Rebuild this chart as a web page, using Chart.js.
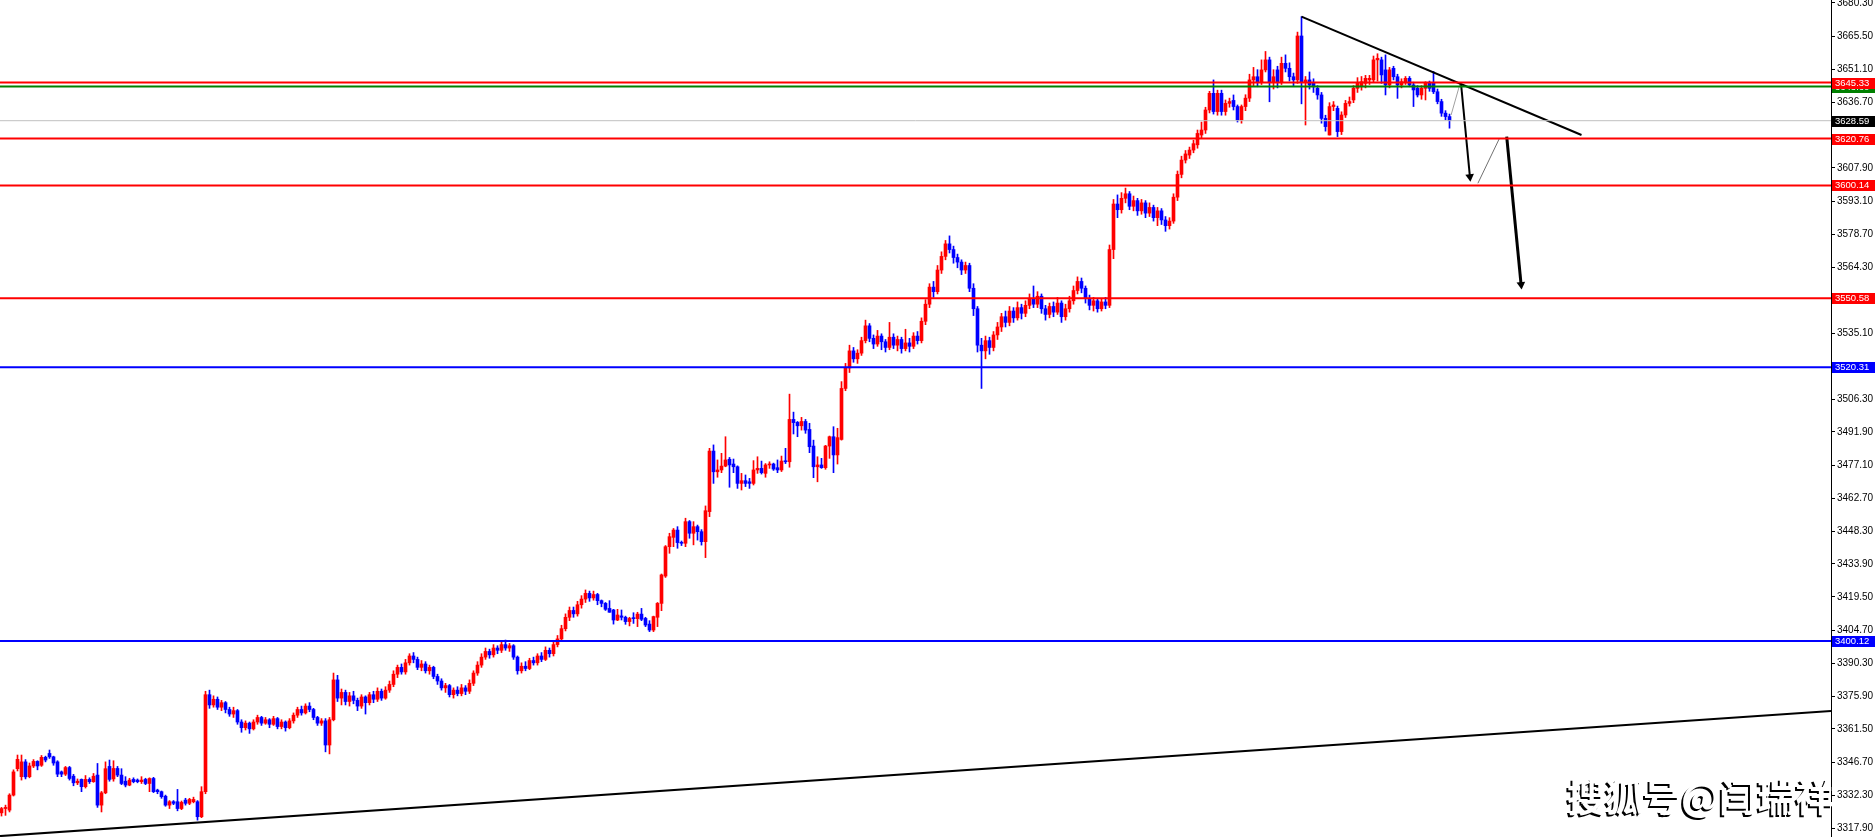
<!DOCTYPE html>
<html>
<head>
<meta charset="utf-8">
<script src="https://cdn.jsdelivr.net/npm/chart.js@4.4.1/dist/chart.umd.min.js"></script>
<style>
    html, body { margin: 0; padding: 0; background: #fff; overflow: hidden; }
    #wrap { width: 1875px; height: 837px; }
</style>
</head>
<body>
<div id="wrap"><canvas id="chart" width="1875" height="837"></canvas></div>
<script>
// Candles (bar index 0..362)
const opens = [
3324.6,3326.5,3325.8,3332.4,3344.0,3340.5,3347.0,3340.5,3345.2,3347.2,
3345.5,3349.0,3350.7,3349.2,3347.0,3342.6,3341.6,3344.5,3340.7,3337.8,
3339.3,3336.1,3339.3,3338.3,3341.2,3328.0,3333.4,3345.0,3339.5,3344.1,
3341.2,3338.5,3336.8,3339.3,3339.0,3338.3,3339.3,3337.5,3339.7,3334.6,
3333.9,3331.9,3328.0,3329.5,3329.5,3326.5,3330.2,3328.8,3329.5,3329.5,
3322.9,3333.9,3376.5,3372.0,3374.5,3371.0,3373.0,3370.0,3368.0,3369.5,
3364.5,3362.0,3364.0,3361.5,3364.5,3366.5,3364.0,3365.5,3363.5,3366.0,
3362.5,3364.5,3362.0,3365.0,3367.5,3370.0,3368.5,3371.5,3370.0,3366.5,
3364.0,3365.0,3354.4,3365.5,3383.0,3375.0,3377.5,3373.5,3376.0,3374.0,
3371.5,3375.5,3373.0,3376.5,3374.5,3378.0,3375.0,3378.5,3381.0,3385.5,
3388.5,3386.5,3390.5,3393.5,3392.0,3388.5,3390.0,3387.0,3388.5,3384.5,
3382.5,3379.5,3380.5,3376.5,3378.5,3377.0,3379.5,3378.0,3381.5,3386.0,
3389.5,3393.0,3395.5,3394.0,3397.0,3396.0,3398.5,3397.0,3398.0,3393.0,
3387.0,3389.0,3388.0,3391.5,3390.5,3393.5,3392.0,3396.0,3394.5,3398.5,
3401.0,3405.5,3410.5,3413.5,3412.0,3416.0,3418.5,3421.0,3419.0,3420.5,
3417.8,3416.6,3414.4,3413.7,3409.3,3411.1,3410.5,3408.6,3410.0,3409.9,
3411.9,3410.0,3407.5,3404.9,3410.5,3416.6,3428.6,3441.5,3445.6,3448.8,
3443.3,3443.0,3452.5,3447.4,3450.3,3448.1,3443.7,3456.9,3483.5,3474.4,
3475.2,3476.9,3479.9,3477.8,3476.6,3469.3,3470.5,3470.0,3469.3,3475.2,
3475.9,3473.7,3477.4,3477.8,3476.2,3475.2,3479.1,3478.8,3497.4,3496.1,
3494.6,3496.5,3493.0,3485.7,3476.6,3477.4,3476.2,3485.7,3489.8,3481.8,
3488.6,3511.0,3520.0,3527.5,3524.0,3526.5,3532.0,3538.5,3533.0,3530.5,
3534.0,3531.5,3529.0,3533.5,3530.0,3532.5,3528.5,3531.0,3529.5,3534.0,
3532.0,3540.5,3548.0,3555.5,3553.5,3563.0,3569.0,3574.5,3572.0,3568.5,
3566.5,3563.0,3565.0,3555.0,3546.0,3530.0,3527.5,3532.0,3529.0,3534.5,
3538.0,3542.5,3540.0,3545.0,3542.0,3546.5,3544.0,3547.5,3550.5,3548.0,
3551.5,3546.0,3543.5,3547.0,3544.5,3548.5,3542.5,3546.0,3549.5,3554.0,
3558.0,3555.0,3550.5,3547.5,3549.5,3546.0,3549.0,3547.5,3572.0,3592.0,
3589.5,3594.5,3596.5,3591.0,3593.5,3589.0,3592.5,3588.0,3590.5,3586.0,
3589.0,3585.0,3582.5,3584.5,3595.0,3605.0,3611.3,3613.5,3615.7,3618.0,
3622.3,3624.5,3633.3,3640.6,3632.6,3640.6,3632.6,3636.2,3637.5,3634.8,
3628.9,3634.8,3638.5,3646.5,3647.9,3645.7,3650.9,3655.3,3645.7,3650.9,
3645.7,3653.8,3651.6,3647.9,3646.5,3665.8,3645.7,3646.5,3645.0,3642.8,
3639.9,3629.6,3622.3,3634.8,3634.0,3623.8,3631.1,3636.2,3637.7,3642.8,
3643.6,3645.0,3646.5,3646.5,3655.3,3655.3,3650.9,3644.3,3651.6,3647.9,
3644.3,3645.7,3647.2,3644.3,3642.8,3639.9,3642.8,3645.0,3645.0,3641.3,
3637.0,3631.9,3630.4
];
const highs = [
3327.0,3328.0,3333.0,3343.5,3350.0,3350.0,3348.0,3346.5,3348.0,3347.5,
3349.8,3349.5,3352.2,3349.5,3347.5,3343.0,3345.0,3345.0,3341.5,3339.5,
3339.5,3341.0,3340.0,3341.9,3346.3,3334.0,3347.0,3347.8,3347.5,3345.0,
3344.0,3340.5,3339.8,3340.0,3339.5,3340.5,3339.8,3340.0,3340.2,3335.0,
3334.2,3332.4,3330.0,3330.0,3334.9,3329.8,3331.0,3331.0,3331.5,3330.0,
3336.1,3378.0,3378.5,3376.0,3375.5,3374.0,3373.5,3371.0,3371.0,3370.0,
3365.5,3365.0,3364.5,3365.5,3367.5,3367.0,3366.5,3366.0,3367.0,3366.5,
3365.5,3365.0,3366.0,3368.5,3371.0,3371.5,3372.5,3373.0,3370.5,3367.0,
3366.0,3366.0,3366.5,3386.0,3385.0,3379.0,3378.5,3377.5,3378.0,3375.0,
3376.5,3376.0,3377.5,3378.0,3379.5,3379.0,3380.0,3382.5,3387.0,3389.5,
3390.0,3392.0,3394.5,3395.0,3393.0,3391.5,3391.0,3389.5,3389.0,3385.5,
3383.5,3381.5,3381.0,3379.5,3380.0,3381.0,3380.5,3383.0,3387.0,3391.0,
3394.5,3397.0,3396.5,3398.5,3398.0,3399.5,3400.5,3399.0,3398.5,3393.5,
3390.5,3391.0,3392.5,3393.0,3394.5,3395.0,3397.5,3397.0,3400.0,3402.5,
3407.0,3412.0,3415.0,3415.0,3417.5,3420.0,3422.5,3422.0,3422.0,3421.0,
3418.1,3417.0,3417.8,3414.0,3414.0,3413.7,3411.0,3410.5,3412.5,3412.7,
3414.4,3410.5,3409.0,3411.0,3417.0,3429.5,3442.0,3447.4,3449.5,3450.3,
3444.0,3454.0,3453.0,3452.5,3451.0,3449.0,3459.4,3484.7,3486.2,3479.6,
3482.5,3489.8,3480.7,3480.0,3477.0,3473.7,3473.0,3471.5,3479.3,3481.0,
3479.1,3478.0,3478.8,3478.2,3479.6,3481.3,3484.7,3508.5,3500.6,3496.5,
3498.3,3497.4,3495.7,3488.3,3481.0,3480.3,3486.0,3490.1,3494.2,3493.5,
3514.0,3522.0,3530.0,3529.0,3528.0,3533.5,3541.0,3539.5,3534.5,3536.5,
3535.0,3532.5,3540.0,3535.0,3534.0,3533.5,3537.0,3533.0,3535.5,3536.0,
3542.0,3550.0,3557.0,3558.0,3565.0,3571.0,3576.0,3578.0,3573.5,3570.0,
3567.5,3566.5,3566.0,3557.0,3547.0,3533.0,3534.0,3533.5,3536.0,3540.0,
3544.0,3545.0,3547.0,3546.5,3549.0,3548.0,3549.5,3552.5,3556.0,3553.5,
3552.5,3547.5,3548.5,3549.0,3551.0,3549.5,3548.0,3551.5,3556.0,3560.0,
3559.5,3556.0,3552.0,3551.0,3550.5,3550.5,3551.0,3574.0,3594.0,3596.0,
3597.0,3599.0,3597.5,3595.5,3594.5,3594.0,3593.5,3592.5,3591.5,3590.5,
3590.0,3586.5,3586.0,3596.5,3606.5,3613.0,3615.5,3617.0,3620.0,3624.5,
3628.0,3634.5,3641.5,3646.5,3642.0,3642.0,3637.7,3638.5,3639.9,3635.5,
3635.5,3640.0,3649.0,3652.0,3651.0,3655.3,3659.0,3656.5,3651.0,3652.5,
3656.5,3657.5,3654.0,3649.5,3667.5,3674.3,3648.0,3650.0,3647.0,3644.0,
3641.0,3631.0,3636.5,3637.0,3635.0,3632.5,3637.5,3639.0,3644.0,3647.5,
3648.0,3648.5,3648.5,3657.0,3658.0,3656.5,3657.5,3652.0,3652.5,3649.0,
3647.0,3648.0,3648.0,3645.5,3644.0,3644.0,3645.7,3646.0,3650.2,3642.5,
3638.0,3633.0,3631.5
];
const lows = [
3323.2,3323.5,3325.0,3332.0,3343.0,3339.0,3339.5,3340.0,3344.5,3343.5,
3345.0,3347.0,3348.5,3345.5,3340.5,3340.5,3341.0,3339.0,3336.5,3337.0,
3333.9,3335.5,3337.5,3338.0,3327.0,3325.0,3333.0,3338.5,3338.5,3340.5,
3337.0,3336.0,3336.5,3337.8,3337.8,3337.5,3337.0,3333.9,3333.5,3333.0,
3331.0,3327.5,3326.5,3328.2,3325.5,3326.0,3328.0,3328.2,3329.0,3321.4,
3322.5,3333.0,3370.5,3371.0,3370.0,3369.5,3368.5,3367.0,3366.5,3363.5,
3360.0,3361.0,3359.5,3361.0,3363.5,3363.0,3363.5,3362.0,3363.0,3361.5,
3361.5,3360.5,3361.5,3364.0,3366.5,3367.5,3368.0,3369.0,3365.5,3363.0,
3363.0,3351.4,3350.5,3365.0,3373.5,3372.0,3372.0,3371.5,3372.5,3369.5,
3370.5,3368.0,3372.0,3373.0,3373.5,3374.0,3374.5,3377.5,3380.0,3384.0,
3385.5,3385.5,3389.5,3390.5,3387.5,3387.0,3386.0,3385.5,3383.5,3381.0,
3378.5,3377.5,3375.5,3375.0,3376.0,3376.0,3376.5,3377.0,3380.5,3385.0,
3388.5,3392.0,3392.5,3393.0,3394.5,3395.0,3396.0,3395.5,3392.0,3385.5,
3386.0,3387.0,3387.5,3389.5,3389.5,3391.0,3391.5,3393.0,3393.5,3397.5,
3400.0,3404.5,3409.0,3410.5,3411.0,3414.5,3417.0,3417.5,3418.0,3416.0,
3415.1,3413.5,3412.7,3407.5,3409.0,3409.3,3407.4,3406.7,3407.8,3406.4,
3409.0,3406.4,3404.2,3404.2,3406.4,3413.4,3428.0,3438.6,3441.5,3440.8,
3442.0,3441.5,3445.2,3442.3,3444.4,3442.2,3436.7,3454.7,3469.3,3472.0,
3474.0,3476.6,3467.6,3474.0,3467.1,3466.4,3467.9,3467.1,3468.6,3473.7,
3473.4,3472.0,3475.9,3475.0,3474.0,3474.5,3478.0,3476.4,3491.0,3489.8,
3492.7,3491.3,3482.8,3471.8,3470.0,3475.9,3475.5,3480.3,3474.0,3477.8,
3488.3,3510.0,3518.0,3522.5,3522.0,3525.5,3531.0,3531.5,3528.5,3529.5,
3528.0,3527.0,3528.0,3528.5,3527.5,3526.5,3527.5,3527.0,3528.5,3530.5,
3531.0,3539.0,3546.5,3551.0,3552.5,3561.5,3567.5,3570.5,3566.0,3564.0,
3561.0,3561.5,3553.5,3543.0,3527.0,3511.0,3524.0,3526.0,3527.5,3532.5,
3536.0,3538.0,3538.5,3540.0,3541.0,3541.5,3542.5,3546.0,3546.5,3546.5,
3544.0,3541.0,3542.0,3542.5,3543.5,3540.0,3541.0,3544.5,3548.0,3552.5,
3553.0,3548.5,3545.5,3545.0,3544.5,3545.0,3546.0,3546.5,3568.0,3586.0,
3588.0,3592.5,3589.5,3589.0,3587.0,3587.5,3586.0,3586.5,3584.5,3582.5,
3583.0,3580.0,3581.0,3583.5,3593.5,3603.5,3610.0,3612.0,3614.5,3616.5,
3621.0,3623.0,3632.0,3631.5,3631.0,3631.0,3631.0,3634.5,3633.3,3628.0,
3627.5,3633.0,3637.0,3644.0,3643.5,3644.5,3650.0,3636.9,3642.5,3643.0,
3644.5,3650.0,3646.0,3644.0,3645.0,3636.0,3626.7,3642.5,3641.0,3638.0,
3627.5,3624.0,3622.3,3633.0,3621.6,3622.5,3630.0,3635.0,3636.5,3641.0,
3642.0,3643.0,3644.5,3645.5,3646.0,3645.0,3639.9,3643.0,3646.5,3638.4,
3643.0,3644.5,3643.5,3634.8,3639.0,3638.0,3637.7,3641.5,3640.5,3636.0,
3630.5,3629.0,3625.3
];
const closes = [
3326.5,3327.0,3332.4,3342.6,3348.1,3347.0,3340.4,3345.2,3347.2,3345.2,
3349.0,3347.8,3349.2,3346.5,3341.6,3341.6,3344.5,3339.7,3337.8,3338.5,
3336.1,3339.3,3338.3,3340.7,3328.0,3333.4,3344.0,3339.3,3344.1,3341.2,
3337.5,3336.8,3339.0,3338.3,3338.3,3339.0,3337.5,3339.7,3333.9,3333.9,
3331.7,3328.0,3329.5,3328.8,3326.5,3329.2,3328.8,3330.5,3330.5,3322.9,
3333.9,3376.5,3372.0,3374.5,3371.0,3373.0,3370.0,3368.0,3369.5,3364.5,
3362.0,3364.0,3361.5,3364.5,3366.5,3364.0,3365.5,3363.5,3366.0,3362.5,
3364.5,3362.0,3365.0,3367.5,3370.0,3368.5,3371.5,3370.0,3366.5,3364.0,
3365.0,3354.4,3365.5,3383.0,3375.0,3377.5,3373.5,3376.0,3374.0,3371.5,
3375.5,3373.0,3376.5,3374.5,3378.0,3375.0,3378.5,3381.0,3385.5,3388.5,
3386.5,3390.5,3393.5,3392.0,3388.5,3390.0,3387.0,3388.5,3384.5,3382.5,
3379.5,3380.5,3376.5,3378.5,3377.0,3379.5,3378.0,3381.5,3386.0,3389.5,
3393.0,3395.5,3394.0,3397.0,3396.0,3398.5,3397.0,3398.0,3393.0,3387.0,
3389.0,3388.0,3391.5,3390.5,3393.5,3392.0,3396.0,3394.5,3398.5,3401.0,
3405.5,3410.5,3413.5,3412.0,3416.0,3418.5,3421.0,3419.0,3420.5,3417.8,
3416.6,3414.0,3412.7,3409.3,3411.5,3410.5,3408.6,3410.0,3409.9,3411.9,
3409.6,3407.1,3404.9,3410.8,3416.6,3429.1,3441.5,3445.9,3448.8,3443.3,
3443.0,3452.5,3447.4,3450.3,3448.1,3443.7,3457.3,3483.5,3474.4,3475.2,
3476.9,3479.6,3477.4,3476.6,3469.3,3470.5,3469.3,3469.3,3475.2,3475.9,
3474.0,3477.4,3477.8,3475.6,3475.2,3479.1,3478.8,3497.4,3496.0,3494.6,
3496.5,3492.7,3485.4,3476.6,3477.4,3476.2,3485.7,3489.8,3481.8,3489.4,
3511.0,3520.0,3527.5,3524.0,3526.5,3532.0,3538.5,3533.0,3530.5,3534.0,
3531.5,3529.0,3533.5,3530.0,3532.5,3528.5,3531.0,3529.5,3534.0,3532.0,
3540.5,3548.0,3555.5,3553.5,3563.0,3569.0,3574.5,3572.0,3568.5,3566.5,
3563.0,3565.0,3555.0,3546.0,3530.0,3527.5,3532.0,3529.0,3534.5,3538.0,
3542.5,3540.0,3545.0,3542.0,3546.5,3544.0,3547.5,3550.5,3548.0,3551.5,
3546.0,3543.5,3547.0,3544.5,3548.5,3542.5,3546.0,3549.5,3554.0,3558.0,
3555.0,3550.5,3547.5,3549.5,3546.0,3549.0,3547.5,3572.0,3592.0,3589.5,
3594.5,3596.5,3591.0,3593.5,3589.0,3592.5,3588.0,3590.5,3586.0,3589.0,
3585.0,3582.5,3584.5,3595.0,3605.0,3611.3,3614.0,3615.7,3618.5,3623.0,
3624.5,3633.3,3640.6,3632.6,3640.6,3632.6,3636.2,3637.0,3634.8,3628.9,
3634.8,3638.5,3646.5,3647.9,3645.7,3650.9,3655.3,3645.7,3647.9,3645.7,
3653.8,3651.6,3647.9,3646.5,3665.8,3645.7,3646.5,3644.3,3643.5,3639.9,
3629.6,3626.0,3634.8,3635.5,3623.8,3631.1,3636.2,3637.0,3642.8,3645.0,
3645.7,3647.2,3647.2,3655.3,3656.0,3648.7,3644.3,3650.9,3647.9,3644.3,
3645.7,3647.2,3644.3,3642.1,3639.9,3642.8,3645.0,3642.8,3641.3,3637.0,
3631.9,3630.4,3628.6
];

// Price axis ticks (the ones hidden behind the price tags are left out)
const priceTicks = [3680.3, 3665.5, 3651.1, 3636.7, 3607.9, 3593.1, 3578.7, 3564.3, 3549.9,
    3535.1, 3506.3, 3491.9, 3477.1, 3462.7, 3448.3, 3433.9, 3419.5, 3404.7,
    3390.3, 3375.9, 3361.5, 3346.7, 3332.3, 3317.9];

// Horizontal levels
const levels = [3643.6, 3645.33, 3628.59, 3620.76, 3600.14, 3550.58, 3520.31, 3400.12];
const levelColors = ['#008000', '#ff0000', '#c0c0c0', '#ff0000', '#ff0000', '#ff0000', '#0000ff', '#0000ff'];
const labelColors = ['#008000', '#ff0000', '#000000', '#ff0000', '#ff0000', '#ff0000', '#0000ff', '#0000ff'];

// Trend lines [barIndex, price]
const downTrend = [[325, 3674.3], [395, 3622.3]];
const upTrend = [[-0.375, 3314.4], [457.375, 3369.3]];

// Forecast path
const path1 = [[362.4, 3631.1], [364.7, 3645.3]];
const arrow1 = [[364.9, 3644.5], [367.1, 3604.0]];
const path2 = [[369.1, 3601.1], [374.5, 3620.9]];
const arrow2 = [[376.3, 3621.6], [379.9, 3556.6]];

const X_MIN = -0.375, X_MAX = 457.375;
const UP = '#ff0000', DOWN = '#0000ff';

function candleColor(ctx) {
    const i = ctx.dataIndex;
    return closes[i] >= opens[i] ? UP : DOWN;
}

function lineSet(points, color, width, extra) {
    return Object.assign({
        type: 'line',
        data: points.map(p => ({ x: p[0], y: p[1] })),
        borderColor: color,
        borderWidth: width,
        pointRadius: 0,
        fill: false,
        tension: 0,
        order: 1
    }, extra || {});
}

const datasets = [];

datasets.push({
    type: 'bar',
    data: opens.map((o, i) => ({ x: i, y: [lows[i], highs[i]] })),
    backgroundColor: candleColor,
    barThickness: 1,
    grouped: false,
    order: 11
});
datasets.push({
    type: 'bar',
    data: opens.map((o, i) => ({ x: i, y: [o, closes[i]] })),
    backgroundColor: candleColor,
    barThickness: 3,
    minBarLength: 1,
    grouped: false,
    order: 10
});

levels.forEach((lv, k) => {
    datasets.push(lineSet([[X_MIN, lv], [X_MAX, lv]], levelColors[k], levelColors[k] === '#c0c0c0' ? 1 : 2));
});

datasets.push(lineSet(downTrend, '#000', 2));
datasets.push(lineSet(upTrend, '#000', 2));
datasets.push(lineSet(path1, '#a0a0a0', 1));
datasets.push(lineSet(path2, '#707070', 1));
datasets.push(lineSet(arrow1, '#000', 2, {
    pointRadius: [0, 5], pointStyle: 'triangle', pointRotation: [0, 174],
    pointBackgroundColor: '#000', pointBorderColor: '#000', pointBorderWidth: 0
}));
datasets.push(lineSet(arrow2, '#000', 3, {
    pointRadius: [0, 5], pointStyle: 'triangle', pointRotation: [0, 174],
    pointBackgroundColor: '#000', pointBorderColor: '#000', pointBorderWidth: 0
}));

// Coloured price tags on the axis + watermark
const overlay = {
    id: 'overlay',
    afterDraw(chart) {
        const c = chart.ctx;
        const y = chart.scales.y;
        const left = chart.chartArea.right + 1;
        c.save();
        c.font = '9.5px "Liberation Sans"';
        c.textBaseline = 'middle';
        levels.forEach((lv, k) => {
            const py = Math.round(y.getPixelForValue(lv));
            c.fillStyle = labelColors[k];
            c.fillRect(left, py - 5, 1875 - left, 11);
            c.fillStyle = '#fff';
            c.fillText(lv.toFixed(2), left + 3, py + 0.5);
        });

        c.font = 'bold 38px "Noto Sans CJK SC"';
        c.textBaseline = 'alphabetic';
        const text = '搜狐号@闫瑞祥';
        c.fillStyle = '#000';
        c.fillText(text, 1565, 813);
        c.fillStyle = '#fff';
        c.fillText(text, 1567, 811);
        c.restore();
    }
};

new Chart(document.getElementById('chart'), {
    type: 'bar',
    data: { datasets: datasets },
    options: {
        responsive: false,
        animation: false,
        devicePixelRatio: 1,
        layout: { padding: 0, autoPadding: false },
        plugins: {
            legend: { display: false },
            tooltip: { enabled: false }
        },
        scales: {
            x: {
                type: 'linear',
                min: X_MIN,
                max: X_MAX,
                offset: false,
                display: false
            },
            y: {
                type: 'linear',
                position: 'right',
                min: 3314.0,
                max: 3681.6,
                beginAtZero: false,
                afterBuildTicks(scale) {
                    scale.ticks = priceTicks.map(v => ({ value: v }));
                },
                afterFit(scale) {
                    scale.width = 44;
                    scale.paddingTop = 0;
                    scale.paddingBottom = 0;
                },
                grid: {
                    drawOnChartArea: false,
                    drawTicks: true,
                    tickLength: 4,
                    tickColor: '#000'
                },
                border: { display: true, color: '#000', width: 1 },
                ticks: {
                    autoSkip: false,
                    padding: 2,
                    color: '#000',
                    font: { family: 'Liberation Sans', size: 10 },
                    callback: v => Number(v).toFixed(2)
                }
            }
        }
    },
    plugins: [overlay]
});
</script>
</body>
</html>
